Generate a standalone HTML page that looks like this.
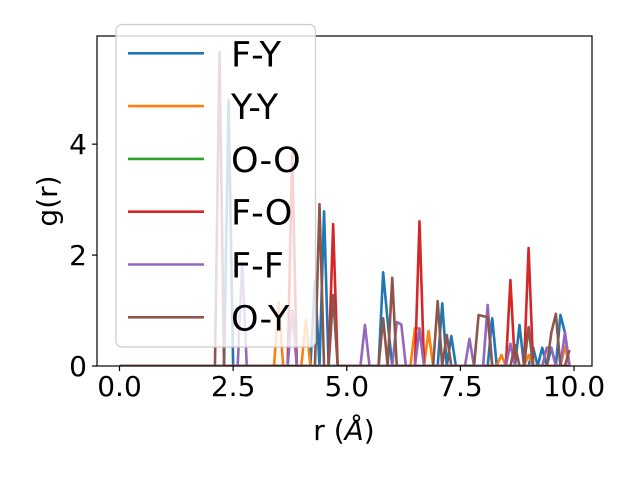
<!DOCTYPE html>
<html><head><meta charset="utf-8"><style>
body{margin:0;background:#fff}
svg{display:block;font-family:"DejaVu Sans","Liberation Sans",sans-serif}
</style></head><body>
<svg id="chart" width="640" height="480" viewBox="0 0 640 480">
<rect width="640" height="480" fill="#fff"/>
<g id="plot"></g>
<g id="axes"></g>
<g id="legend"></g>
</svg>
<script>
const categories = ["F-Y","Y-Y","O-O","F-O","F-F","O-Y"];
const colors = ["#1f77b4","#ff7f0e","#2ca02c","#d62728","#9467bd","#8c564b"];
const fyPeaks = [[2.4,4.79],[4.3,1.55],[4.5,2.79],[5.8,1.69],[5.9,0.8],[7.1,1.13],[7.3,0.54],[8.2,0.86],[8.8,0.74],[9.1,0.33],[9.3,0.33],[9.5,0.33],[9.7,0.92],[9.8,0.6]];
const yyPeaks = [[3.5,1.15],[4.1,0.83],[6.5,0.68],[6.6,0.68],[6.8,0.63],[8.4,0.2],[9.0,0.2],[9.8,0.35]];
const ooPeaks = [];
const foPeaks = [[3.8,3.85],[4.7,2.56],[6.6,2.61],[8.6,1.55],[9.0,2.13]];
const ffPeaks = [[2.7,1.87],[3.8,1.0],[5.4,0.74],[6.1,0.79],[6.2,0.75],[6.6,0.67],[7.7,0.49],[8.1,1.1],[8.6,0.4],[9.4,0.33],[9.5,0.33],[9.8,0.61]];
const oyPeaks = [[2.2,5.66],[4.4,2.92],[4.7,1.28],[5.8,0.86],[6.0,1.59],[7.0,1.17],[7.2,0.56],[7.9,0.92],[8.0,0.9],[8.1,0.88],[8.7,0.38],[9.0,0.7],[9.5,0.6],[9.6,0.94],[9.9,0.29]];
const xTicks = [0,2.5,5,7.5,10];
const xTickLabels = ["0.0","2.5","5.0","7.5","10.0"];
const yTicks = [0,2,4];
const yTickLabels = ["0","2","4"];
const nPoints = 100, xStep = 0.1;

const NS="http://www.w3.org/2000/svg";
const L=97,R=592,T=36,B=366;
const xMin=-0.495,xMax=10.395,yMin=0,yMax=5.95;
const sx=v=>L+(v-xMin)/(xMax-xMin)*(R-L);
const sy=v=>B-(v-yMin)/(yMax-yMin)*(B-T);
function mk(tag,attrs,parent){const e=document.createElementNS(NS,tag);for(const k in attrs)e.setAttribute(k,attrs[k]);parent.appendChild(e);return e;}
const plot=document.getElementById('plot'),axes=document.getElementById('axes'),legend=document.getElementById('legend');
mk('clipPath',{id:'clip'},plot).appendChild(Object.assign(document.createElementNS(NS,'rect'),{}));
const cr=plot.querySelector('clipPath rect');cr.setAttribute('x',L);cr.setAttribute('y',T);cr.setAttribute('width',R-L);cr.setAttribute('height',B-T);
const allPeaks=[fyPeaks,yyPeaks,ooPeaks,foPeaks,ffPeaks,oyPeaks];
allPeaks.forEach((pk,si)=>{
  const vals=new Array(nPoints).fill(0);
  pk.forEach(([x,y])=>{const i=Math.round(x/xStep);if(i>=0&&i<nPoints)vals[i]=y;});
  const pts=vals.map((v,i)=>sx(i*xStep).toFixed(2)+','+sy(v).toFixed(2)).join(' ');
  const pl=mk('polyline',{points:pts,fill:'none',stroke:colors[si],'stroke-width':2.6,'stroke-linejoin':'round','clip-path':'url(#clip)'},plot);
  
  
});
// spines
const fr=mk('rect',{x:L,y:T,width:R-L,height:B-T,fill:'none',stroke:'#000','stroke-width':1.2},axes);


xTicks.forEach((v,i)=>{
  const x=sx(v);
  const t=mk('line',{x1:x,x2:x,y1:B,y2:B+5,stroke:'#000','stroke-width':1.2},axes);
  
  
  const tx=mk('text',{x:x,y:B+30,'text-anchor':'middle','font-size':28},axes);
  tx.textContent=xTickLabels[i];
  
  
});
yTicks.forEach((v,i)=>{
  const y=sy(v);
  const t=mk('line',{x1:L-5,x2:L,y1:y,y2:y,stroke:'#000','stroke-width':1.2},axes);
  
  
  const tx=mk('text',{x:L-10,y:y+10,'text-anchor':'end','font-size':28},axes);
  tx.textContent=yTickLabels[i];
  
  
});
const xl=mk('text',{x:344,y:440,'text-anchor':'middle','font-size':28},axes);
xl.innerHTML='r (<tspan font-style="italic">Å</tspan>)';


const yl=mk('text',{x:0,y:0,'text-anchor':'middle','font-size':28,transform:'translate(57,201) rotate(-90)'},axes);
yl.textContent='g(r)';


// legend
const lb=mk('rect',{x:116,y:24.5,width:199.5,height:322.5,rx:6,fill:'#fff','fill-opacity':0.8,stroke:'#ccc','stroke-width':1.2},legend);


categories.forEach((c,i)=>{
  const y=53.3+i*52.8;
  const g=mk('g',{},legend);
  
  
  mk('line',{x1:128,x2:204,y1:y,y2:y,stroke:colors[i],'stroke-width':2.6},g);
  const t=mk('text',{x:231,y:y+13,'font-size':35},g);
  t.textContent=c;
});
</script>
</body></html>
